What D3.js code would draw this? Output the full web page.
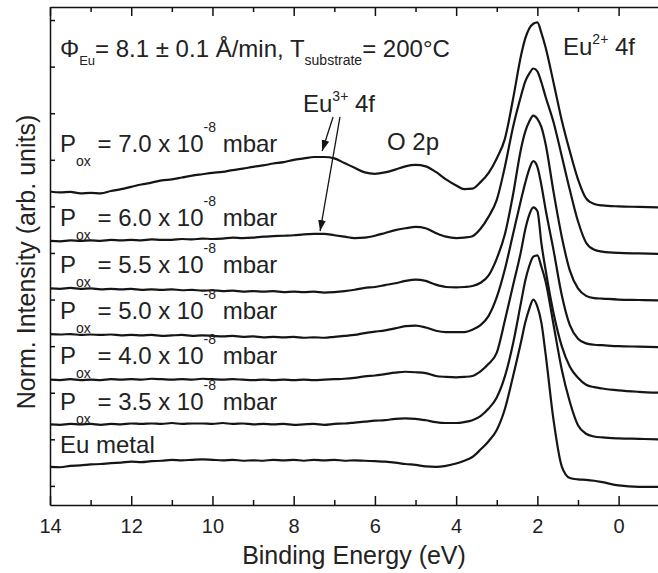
<!DOCTYPE html>
<html>
<head>
<meta charset="utf-8">
<script src="https://cdn.jsdelivr.net/npm/d3@7"></script>
<style>
    body { margin: 0; background: #fff; }
    svg { display: block; font-family: Arial, "Liberation Sans", sans-serif; }
    .axis path, .axis line { stroke: #111; stroke-width: 1.5px; }
    .axis text { fill: #222; font-size: 20px; font-family: Arial, "Liberation Sans", sans-serif; }
    .spectrum { fill: none; stroke: #151515; stroke-width: 2.2px; stroke-linejoin: round; }
    .label { fill: #222; }
</style>
</head>
<body>
<div id="chart"></div>
<script>
const WIDTH = 658, HEIGHT = 573;

// binding energies the spectra were read at (eV)
const energies = [14, 13.75, 13.5, 13.25, 13, 12.75, 12.5, 12.25, 12, 11.75,
    11.5, 11.25, 11, 10.75, 10.5, 10.25, 10, 9.75, 9.5, 9.25,
    9, 8.75, 8.5, 8.25, 8, 7.75, 7.5, 7.25, 7, 6.75,
    6.5, 6.25, 6, 5.75, 5.5, 5.25, 5, 4.75, 4.5, 4.25,
    4, 3.8, 3.6, 3.4, 3.2, 3.0, 2.8, 2.6, 2.4, 2.3,
    2.2, 2.1, 2.0, 1.9, 1.8, 1.6, 1.4, 1.2, 1.0, 0.8,
    0.6, 0.4, 0.0, -0.5, -1.0];

// normalized intensities, each spectrum relative to its own background
const pox70 = [0.32, 0.30, 0.31, 0.28, 0.29, 0.28, 0.33, 0.37, 0.42, 0.47,
    0.51, 0.56, 0.58, 0.62, 0.66, 0.69, 0.72, 0.74, 0.78, 0.81,
    0.85, 0.88, 0.92, 0.95, 1.00, 1.03, 1.06, 1.06, 1.03, 0.93,
    0.83, 0.73, 0.70, 0.73, 0.79, 0.86, 0.89, 0.86, 0.74, 0.58,
    0.45, 0.37, 0.38, 0.52, 0.72, 1.03, 1.45, 2.30, 3.25, 3.60,
    3.82, 3.92, 3.95, 3.72, 3.42, 2.65, 1.85, 1.18, 0.58, 0.17,
    0.05, 0.02, 0.00, -0.01, -0.02];
const pox60 = [0.26, 0.25, 0.27, 0.26, 0.27, 0.26, 0.28, 0.27, 0.28, 0.27,
    0.29, 0.28, 0.28, 0.30, 0.29, 0.31, 0.30, 0.31, 0.33, 0.32,
    0.33, 0.35, 0.36, 0.37, 0.38, 0.40, 0.41, 0.41, 0.38, 0.35,
    0.32, 0.33, 0.37, 0.43, 0.49, 0.53, 0.56, 0.53, 0.43, 0.35,
    0.32, 0.33, 0.36, 0.52, 0.78, 1.14, 1.85, 2.70, 3.38, 3.68,
    3.85, 3.96, 3.90, 3.66, 3.36, 2.80, 2.08, 1.35, 0.68, 0.22,
    0.07, 0.03, 0.00, -0.01, -0.02];
const pox55 = [0.24, 0.23, 0.25, 0.23, 0.24, 0.22, 0.23, 0.22, 0.23, 0.21,
    0.22, 0.21, 0.22, 0.20, 0.21, 0.19, 0.20, 0.18, 0.19, 0.17,
    0.18, 0.17, 0.18, 0.16, 0.17, 0.16, 0.17, 0.15, 0.16, 0.18,
    0.21, 0.25, 0.27, 0.31, 0.35, 0.40, 0.43, 0.40, 0.32, 0.27,
    0.26, 0.27, 0.29, 0.36, 0.52, 0.88, 1.40, 2.25, 3.25, 3.60,
    3.82, 3.95, 3.88, 3.70, 3.35, 2.30, 1.35, 0.62, 0.24, 0.08,
    0.03, 0.02, 0.00, -0.01, -0.02];
const pox50 = [0.26, 0.25, 0.26, 0.24, 0.25, 0.24, 0.25, 0.23, 0.24, 0.23,
    0.24, 0.22, 0.23, 0.24, 0.22, 0.23, 0.22, 0.21, 0.22, 0.20,
    0.21, 0.19, 0.20, 0.19, 0.20, 0.18, 0.19, 0.18, 0.20, 0.22,
    0.24, 0.28, 0.31, 0.34, 0.38, 0.43, 0.44, 0.40, 0.33, 0.30,
    0.30, 0.30, 0.35, 0.45, 0.65, 1.05, 1.65, 2.40, 3.15, 3.50,
    3.80, 3.97, 3.85, 3.45, 2.95, 2.05, 1.10, 0.45, 0.16, 0.06,
    0.03, 0.02, 0.00, -0.01, -0.02];
const pox40 = [0.28, 0.27, 0.29, 0.27, 0.28, 0.27, 0.29, 0.28, 0.29, 0.28,
    0.30, 0.29, 0.28, 0.29, 0.28, 0.30, 0.29, 0.28, 0.29, 0.28,
    0.27, 0.28, 0.27, 0.28, 0.27, 0.28, 0.27, 0.28, 0.29, 0.30,
    0.32, 0.35, 0.37, 0.40, 0.43, 0.45, 0.44, 0.42, 0.36, 0.34,
    0.33, 0.34, 0.36, 0.46, 0.62, 0.86, 1.55, 2.30, 3.05, 3.50,
    3.82, 3.98, 3.90, 3.20, 2.65, 1.70, 1.00, 0.56, 0.32, 0.17,
    0.12, 0.09, 0.05, 0.02, 0.00];
const pox35 = [0.32, 0.31, 0.33, 0.32, 0.33, 0.31, 0.33, 0.32, 0.34, 0.33,
    0.34, 0.33, 0.35, 0.33, 0.34, 0.34, 0.33, 0.35, 0.33, 0.34,
    0.32, 0.33, 0.32, 0.33, 0.31, 0.32, 0.33, 0.31, 0.33, 0.34,
    0.36, 0.38, 0.40, 0.41, 0.44, 0.45, 0.44, 0.41, 0.37, 0.35,
    0.35, 0.37, 0.41, 0.50, 0.66, 0.90, 1.35, 2.05, 2.95, 3.40,
    3.72, 3.92, 3.95, 3.70, 3.40, 2.45, 1.50, 0.80, 0.30, 0.12,
    0.06, 0.04, 0.02, 0.01, 0.00];
const euMetal = [0.41, 0.40, 0.43, 0.44, 0.46, 0.47, 0.49, 0.50, 0.52, 0.51,
    0.53, 0.54, 0.56, 0.55, 0.56, 0.57, 0.56, 0.55, 0.56, 0.54,
    0.55, 0.54, 0.56, 0.55, 0.56, 0.54, 0.56, 0.55, 0.56, 0.54,
    0.55, 0.54, 0.53, 0.52, 0.50, 0.47, 0.45, 0.42, 0.41, 0.43,
    0.48, 0.54, 0.62, 0.78, 0.96, 1.20, 1.65, 2.35, 3.10, 3.50,
    3.80, 4.00, 3.85, 3.50, 2.85, 1.40, 0.42, 0.17, 0.14, 0.13,
    0.11, 0.08, 0.01, -0.02, -0.02];

const pressures = ["7.0", "6.0", "5.5", "5.0", "4.0", "3.5"];
const spectra = [pox70, pox60, pox55, pox50, pox40, pox35, euMetal];
const stackOffsets = [6, 5, 4, 3, 2, 1, 0];

const majorTicks = [14, 12, 10, 8, 6, 4, 2, 0];
const minorTicks = [13, 11, 9, 7, 5, 3, 1];
const yTicks = [0, 1, 2, 3, 4, 5, 6, 7, 8, 9, 10];

// where each curve label sits (stack units)
const labelLevels = [7.17, 5.57, 4.58, 3.59, 2.61, 1.62, 0.71];

var svg, x, y;
const plot = { left: 50, right: 658, top: 7, bottom: 505 };

function init_svg() {
    svg = d3.select("#chart")
        .append("svg")
        .attr("width", WIDTH)
        .attr("height", HEIGHT);

    x = d3.scaleLinear().domain([14, -0.97]).range([plot.left, plot.right]);
    y = d3.scaleLinear().domain([-0.41, 10.28]).range([plot.bottom, plot.top]);

    svg.append("defs").append("clipPath")
        .attr("id", "clip")
        .append("rect")
        .attr("x", plot.left).attr("y", plot.top)
        .attr("width", plot.right - plot.left)
        .attr("height", plot.bottom - plot.top);

    let marker = svg.select("defs").append("marker")
        .attr("id", "arrow")
        .attr("viewBox", "0 0 10 10")
        .attr("refX", 10).attr("refY", 5)
        .attr("markerWidth", 11).attr("markerHeight", 11)
        .attr("markerUnits", "userSpaceOnUse")
        .attr("orient", "auto");
    marker.append("path").attr("d", "M0,1.5 L10,5 L0,8.5 Z").attr("fill", "#151515");
}

function draw_axes() {
    // bottom: major with labels, minor without
    let bottom = svg.append("g").attr("class", "axis")
        .attr("transform", "translate(0," + plot.bottom + ")")
        .call(d3.axisBottom(x).tickValues(majorTicks).tickSizeInner(-9).tickSizeOuter(0).tickPadding(14));
    bottom.selectAll("text").attr("dy", "0.71em");
    svg.append("g").attr("class", "axis")
        .attr("transform", "translate(0," + plot.bottom + ")")
        .call(d3.axisBottom(x).tickValues(minorTicks).tickSizeInner(-5).tickSizeOuter(0).tickFormat(""))
        .select(".domain").remove();

    // top
    svg.append("g").attr("class", "axis")
        .attr("transform", "translate(0," + plot.top + ")")
        .call(d3.axisTop(x).tickValues(majorTicks).tickSizeInner(-9).tickSizeOuter(0).tickFormat(""));
    svg.append("g").attr("class", "axis")
        .attr("transform", "translate(0," + plot.top + ")")
        .call(d3.axisTop(x).tickValues(minorTicks).tickSizeInner(-5).tickSizeOuter(0).tickFormat(""))
        .select(".domain").remove();

    // left, no numbers
    svg.append("g").attr("class", "axis")
        .attr("transform", "translate(" + plot.left + ",0)")
        .call(d3.axisLeft(y).tickValues(yTicks).tickSizeInner(-5).tickSizeOuter(0).tickFormat(""));

    svg.append("text")
        .attr("class", "label")
        .attr("x", 354).attr("y", 564)
        .attr("text-anchor", "middle")
        .style("font-size", "25px")
        .text("Binding Energy (eV)");

    svg.append("text")
        .attr("class", "label")
        .attr("transform", "translate(35,262) rotate(-90)")
        .attr("text-anchor", "middle")
        .style("font-size", "25px")
        .text("Norm. Intensity (arb. units)");
}

function draw_spectra() {
    let line = d3.line()
        .curve(d3.curveMonotoneX);

    svg.append("g")
        .attr("clip-path", "url(#clip)")
        .selectAll("path")
        .data(spectra)
        .join("path")
        .attr("class", "spectrum")
        .attr("d", (d, i) => line(d.map((v, j) => [x(energies[j]), y(v + stackOffsets[i])])));
}

// text with sub/superscripts: parts = [text, size, dy]
function rich_text(px, py, parts) {
    let t = svg.append("text").attr("class", "label").attr("x", px).attr("y", py);
    parts.forEach(p => {
        t.append("tspan")
            .attr("dy", p[2])
            .style("font-size", p[1] + "px")
            .text(p[0]);
    });
    return t;
}

function draw_labels() {
    pressures.forEach((p, i) => {
        rich_text(60, y(labelLevels[i]), [
            ["P", 24, 0], ["ox", 14, 14], [" = " + p + " x 10", 24, -14],
            ["-8", 14, -20], [" mbar", 24, 20]
        ]);
    });
    rich_text(60, y(labelLevels[6]), [["Eu metal", 24, 0]]);

    rich_text(60, 57, [
        ["\u03A6", 24, 0], ["Eu", 13, 8], ["= 8.1 \u00B1 0.1 \u00C5/min, T", 24, -8],
        ["substrate", 14, 8], ["= 200\u00B0C", 24, -8]
    ]);
    rich_text(563, 55, [["Eu", 24, 0], ["2+", 14, -11], [" 4f", 24, 11]]);
    rich_text(303, 112, [["Eu", 24, 0], ["3+", 14, -11], [" 4f", 24, 11]]);
    rich_text(387, 150, [["O 2p", 24, 0]]);

    // arrows from the Eu3+ label down to the 7.0 and 6.0 spectra
    const arrows = [
        { from: [7.03, 7.92], to: [7.30, 7.19] },
        { from: [6.86, 7.92], to: [7.35, 5.47] }
    ];
    svg.append("g").selectAll("line")
        .data(arrows)
        .join("line")
        .attr("x1", d => x(d.from[0])).attr("y1", d => y(d.from[1]))
        .attr("x2", d => x(d.to[0])).attr("y2", d => y(d.to[1]))
        .attr("stroke", "#151515")
        .attr("stroke-width", 1.3)
        .attr("marker-end", "url(#arrow)");
}

init_svg();
draw_axes();
draw_spectra();
draw_labels();
</script>
</body>
</html>
